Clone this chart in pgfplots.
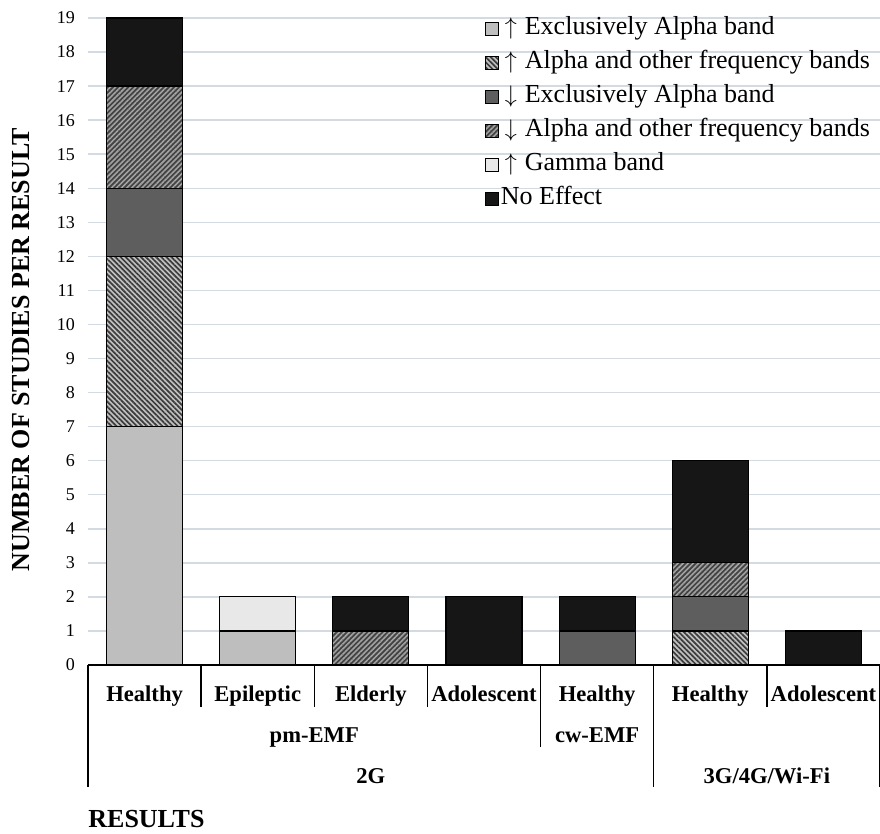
\documentclass[border=0pt]{standalone}
\usepackage{fontspec}
\setmainfont{Liberation Serif}
\usepackage{pgfplots}
\pgfplotsset{compat=1.18}
\usepackage{pgfplotstable}
\usetikzlibrary{patterns.meta}

\definecolor{cUpA}{HTML}{BEBEBE}
\definecolor{cUpAObg}{HTML}{C2C2C2}
\definecolor{cUpAOln}{HTML}{3C3C3C}
\definecolor{cDnA}{HTML}{5E5E5E}
\definecolor{cDnAObg}{HTML}{424242}
\definecolor{cDnAOln}{HTML}{A2A2A2}
\definecolor{cGamma}{HTML}{E8E8E8}
\definecolor{cNone}{HTML}{161616}
\definecolor{cGrid}{HTML}{D3DAE1}

% stacked counts per group, bottom to top
\pgfplotstableread{
x   upA upAO dnA dnAO gamma noeff
0.5 7   5    2   3    0     2
1.5 1   0    0   0    1     0
2.5 0   0    0   1    0     1
3.5 0   0    0   0    0     2
4.5 0   0    1   0    0     1
5.5 0   1    1   1    0     3
6.5 0   0    0   0    0     1
}\results

\newcommand{\up}{\hspace{2pt}$\uparrow$\hspace{4pt}}
\newcommand{\dn}{\hspace{2pt}$\downarrow$\hspace{4pt}}

\begin{document}
\begin{tikzpicture}
\path[use as bounding box] (-44pt,-84.5pt) rectangle (396pt,332.5pt);
\begin{axis}[
    scale only axis,
    width=396pt, height=323.5pt,
    xmin=0, xmax=7, ymin=0, ymax=19,
    ybar stacked, bar width=38pt,
    xtick={0.5,1.5,...,6.5},
    xticklabels={Healthy,Epileptic,Elderly,Adolescent,Healthy,Healthy,Adolescent},
    ytick={0,1,...,19},
    ymajorgrids, grid style={color=cGrid, line width=0.75pt},
    axis x line*=bottom, axis y line*=left,
    y axis line style={draw=none},
    x axis line style={line width=0.7pt},
    major tick length=0pt, tick style={draw=none},
    xticklabel style={font=\bfseries\fontsize{11.3}{12}\selectfont, anchor=base, yshift=-18.5pt},
    yticklabel style={font=\fontsize{9}{10}\selectfont, xshift=-3pt},
    /pgf/number format/assume math mode=true,
    ylabel={NUMBER OF STUDIES PER RESULT},
    ylabel style={font=\bfseries\fontsize{13}{13}\selectfont, at={(axis description cs:-0.0845,0.487)}, anchor=center},
    legend style={at={(axis description cs:0.493,1.012)}, anchor=north west, draw=none, fill=none,
        font=\fontsize{13}{14}\selectfont, row sep=3pt,
        nodes={inner sep=1pt, text height=9pt, text depth=3pt}},
    legend cell align=left,
    legend image code/.code={\draw[#1, line width=0.5pt] (0pt,-3.25pt) rectangle (6.5pt,3.25pt);},
    clip=false,
]
\addplot[draw=black, line width=0.6pt, fill=cUpA] table[x=x, y=upA] {\results};
\addplot[draw=black, line width=0.6pt, fill=cUpAObg, postaction={pattern={Lines[angle=-45,distance=1.8pt,line width=0.85pt]}, pattern color=cUpAOln}] table[x=x, y=upAO] {\results};
\addplot[draw=black, line width=0.6pt, fill=cDnA] table[x=x, y=dnA] {\results};
\addplot[draw=black, line width=0.6pt, fill=cDnAObg, postaction={pattern={Lines[angle=45,distance=1.8pt,line width=0.8pt]}, pattern color=cDnAOln}] table[x=x, y=dnAO] {\results};
\addplot[draw=black, line width=0.6pt, fill=cGamma] table[x=x, y=gamma] {\results};
\addplot[draw=black, line width=0.6pt, fill=cNone] table[x=x, y=noeff] {\results};
\legend{\up Exclusively Alpha band, \up Alpha and other frequency bands, \dn Exclusively Alpha band, \dn Alpha and other frequency bands, \up Gamma band, No Effect}

% group separators under the axis
\draw[line width=0.7pt] (axis cs:0,0) -- ++(0,-61pt);
\draw[line width=0.7pt] (axis cs:1,0) -- ++(0,-21pt);
\draw[line width=0.7pt] (axis cs:2,0) -- ++(0,-21pt);
\draw[line width=0.7pt] (axis cs:3,0) -- ++(0,-21pt);
\draw[line width=0.7pt] (axis cs:4,0) -- ++(0,-41pt);
\draw[line width=0.7pt] (axis cs:5,0) -- ++(0,-61pt);
\draw[line width=0.7pt] (axis cs:6,0) -- ++(0,-21pt);
\draw[line width=0.7pt] (axis cs:7,0) -- ++(0,-61pt);

\node[font=\bfseries\fontsize{11.3}{12}\selectfont, anchor=base, yshift=-39pt] at (axis cs:2,0) {pm-EMF};
\node[font=\bfseries\fontsize{11.3}{12}\selectfont, anchor=base, yshift=-39pt] at (axis cs:4.5,0) {cw-EMF};
\node[font=\bfseries\fontsize{11.3}{12}\selectfont, anchor=base, yshift=-59.5pt] at (axis cs:2.5,0) {2G};
\node[font=\bfseries\fontsize{11.3}{12}\selectfont, anchor=base, yshift=-59.5pt] at (axis cs:6,0) {3G/4G/Wi-Fi};
\node[font=\bfseries\fontsize{13}{13}\selectfont, anchor=base west, yshift=-81.5pt, inner sep=0pt] at (axis cs:0,0) {RESULTS};
\end{axis}
\end{tikzpicture}
\end{document}
